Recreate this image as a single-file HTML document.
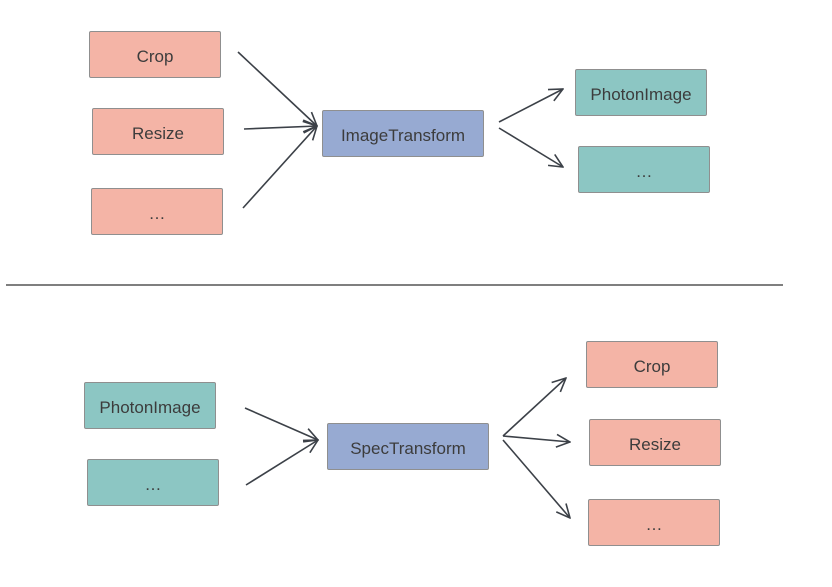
<!DOCTYPE html><html><head><style>
body{margin:0;background:#fff;width:832px;height:587px;overflow:hidden;position:relative;font-family:"Liberation Sans",sans-serif}
.b{position:absolute;box-sizing:border-box;border:1.5px solid #8f8f8f;border-radius:2px;display:flex;align-items:center;justify-content:center;font-size:17px;color:#3c3c3c;width:132px;height:47px;padding-top:4px}
.s{background:#f4b4a6}.t{background:#8cc6c3}.p{background:#97aad2;width:162px}
</style></head><body>
<div class="b s" style="left:89px;top:31px">Crop</div>
<div class="b s" style="left:92px;top:108px">Resize</div>
<div class="b s" style="left:91px;top:188px">…</div>
<div class="b p" style="left:322px;top:110px">ImageTransform</div>
<div class="b t" style="left:575px;top:69px">PhotonImage</div>
<div class="b t" style="left:578px;top:146px">…</div>
<div class="b t" style="left:84px;top:382px">PhotonImage</div>
<div class="b t" style="left:87px;top:459px">…</div>
<div class="b p" style="left:327px;top:423px">SpecTransform</div>
<div class="b s" style="left:586px;top:341px">Crop</div>
<div class="b s" style="left:589px;top:419px">Resize</div>
<div class="b s" style="left:588px;top:499px">…</div>
<svg width="832" height="587" style="position:absolute;left:0;top:0">
<defs><marker id="a" viewBox="0 0 20 20" refX="19" refY="10" markerWidth="16" markerHeight="16" markerUnits="userSpaceOnUse" orient="auto"><path d="M2,2 L19,10 L2,18" fill="none" stroke="#3c4148" stroke-width="2"/></marker></defs>
<g stroke="#3c4148" stroke-width="1.6" fill="none" marker-end="url(#a)">
<line x1="238" y1="52" x2="317" y2="126"/>
<line x1="244" y1="129" x2="317" y2="126"/>
<line x1="243" y1="208" x2="317" y2="126"/>
<line x1="499" y1="122" x2="563" y2="89"/>
<line x1="499" y1="128" x2="563" y2="167"/>
<line x1="245" y1="408" x2="318" y2="440"/>
<line x1="246" y1="485" x2="318" y2="440"/>
<line x1="503" y1="436" x2="566" y2="378"/>
<line x1="503" y1="436" x2="570" y2="442"/>
<line x1="503" y1="440" x2="570" y2="518"/>
</g>
<line x1="6" y1="285" x2="783" y2="285" stroke="#555" stroke-width="1.5"/>
</svg>
</body></html>
